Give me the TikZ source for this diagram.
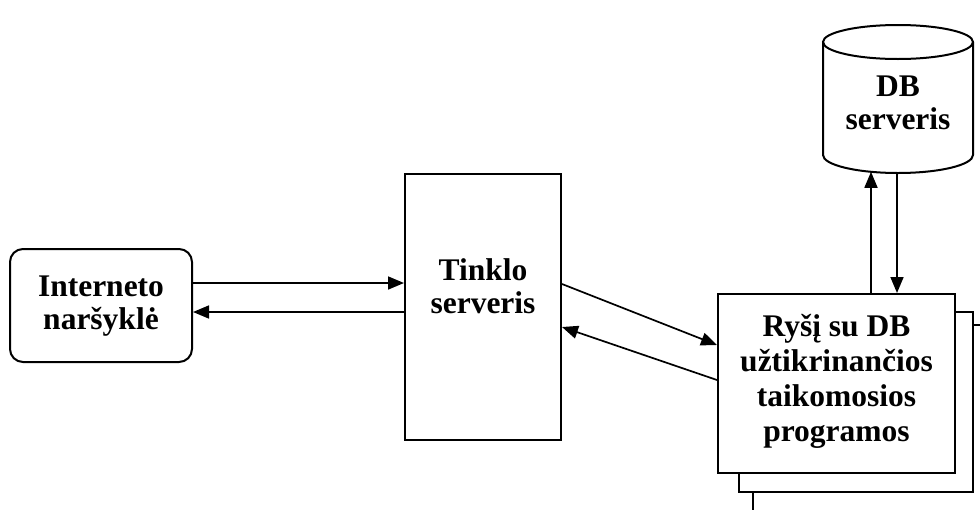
\documentclass[tikz,border=0pt]{standalone}
\usepackage{fontspec}
\setmainfont{Liberation Serif}
\usetikzlibrary{arrows.meta}

\tikzset{
  boxline/.style={draw, line width=2pt},
  block/.style={boxline, fill=white, inner sep=0pt, align=center},
  label text/.style={align=center, inner sep=0pt,
    font=\bfseries\fontsize{31.5}{33}\selectfont},
  flow/.style={line width=1.7pt, -{Triangle[length=16pt,width=13pt]}}
}

\begin{document}
\begin{tikzpicture}[x=1pt, y=-1pt]
  \useasboundingbox (0,0) rectangle (980,509);
  \clip (0,0) rectangle (980,509);

  % browser
  \node (inet) [block, rounded corners=13pt, minimum width=182pt, minimum height=113pt]
    at (101,305.5) {};
  \node (inettext) [label text] at (101,306) {Interneto\\naršyklė};

  % web server
  \node (tink) [block, minimum width=156pt, minimum height=266pt] at (483,307) {};
  \node (tinktext) [label text] at (483,286) {Tinklo\\serveris};

  % stacked application boxes
  \node (app3) [block, minimum width=238pt, minimum height=186pt] at (872,418) {};
  \node (app2) [block, minimum width=234pt, minimum height=180pt] at (856,402) {};
  \node (app)  [block, minimum width=237pt, minimum height=179pt] at (836.5,383.5) {};
  \node (apptext) [label text, font=\bfseries\fontsize{31.5}{35}\selectfont] at (836.5,381)
    {Ryšį su DB\\užtikrinančios\\taikomosios\\programos};

  % database cylinder
  \draw[boxline, fill=white]
    (823,42) -- (823,155) arc[start angle=180, end angle=0, x radius=75, y radius=18]
    -- (973,42);
  \draw[boxline] (898,42) ellipse[x radius=75, y radius=17];
  \node (dbtext) [label text] at (898,103) {DB\\serveris};
  \coordinate (dbup) at (871,171.8);
  \coordinate (dbdown) at (897,173);

  % browser <-> web server
  \draw[flow] ([yshift=22.5pt]inet.east) -- ([yshift=24pt]tink.west);
  \draw[flow] ([yshift=-5pt]tink.west) -- ([yshift=-6.5pt]inet.east);

  % web server <-> applications
  \draw[flow] ([yshift=23pt]tink.east) -- ([yshift=38.5pt]app.west);
  \draw[flow] ([yshift=3.5pt]app.west) -- ([yshift=-20pt]tink.east);

  % applications <-> database
  \draw[flow] ([xshift=34.5pt]app.north) -- (dbup);
  \draw[flow] (dbdown) -- ([xshift=60.5pt]app.north);
\end{tikzpicture}
\end{document}
